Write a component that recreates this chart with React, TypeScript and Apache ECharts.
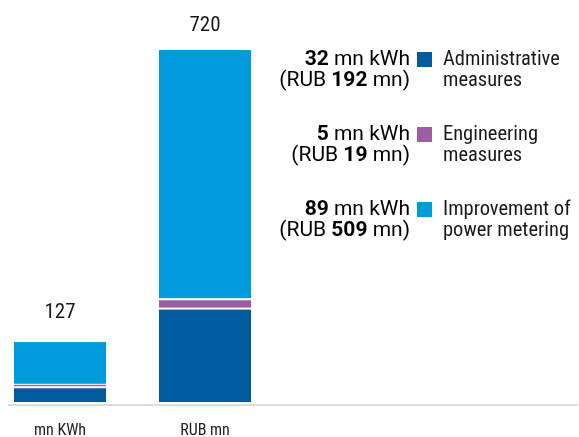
import React, { useEffect, useRef } from "react";
import * as echarts from "echarts";

const categories = ["mn KWh", "RUB mn"];
const seriesNames = ["Administrative", "Engineering", "Improvement of power metering"];
const legendLines = [
  ["Administrative", "measures"],
  ["Engineering", "measures"],
  ["Improvement of", "power metering"],
];
const kwhValues = [32, 5, 89];
const rubValues = [192, 19, 509];
const totals = [127, 720];
const colors = ["#005b9f", "#9e5ba6", "#009bdb"];

export default function App() {
  const ref = useRef<HTMLDivElement>(null);
  useEffect(() => {
    if (!ref.current) return;
    const chart = echarts.init(ref.current, undefined, { renderer: "svg" });
    const font = "Roboto";
    const narrow = "'Roboto Condensed', Roboto";
    const labelDistances = [20, 15];
    const series: any[] = seriesNames.map((name, i) => {
      const isTop = i === seriesNames.length - 1;
      const vals = [kwhValues[i], rubValues[i]];
      return {
        name,
        type: "bar",
        stack: "total",
        barWidth: 94,
        barMinHeight: i === 1 ? 6 : 0,
        data: vals.map((v, j) =>
          isTop ? { value: v, label: { distance: labelDistances[j] } } : v
        ),
        itemStyle: { color: colors[i], borderColor: "#ffffff", borderWidth: 1 },
        label: isTop
          ? {
              show: true,
              position: "top",
              formatter: (p: any) => String(totals[p.dataIndex]),
              fontFamily: narrow,
              fontSize: 21,
              color: "#1a1a1a",
            }
          : { show: false },
      };
    });

    const graphics: any[] = [
      {
        type: "line",
        shape: { x1: 8, y1: 405, x2: 578, y2: 405 },
        style: { stroke: "#dcdcdc", lineWidth: 2 },
      },
    ];
    const rowY = [58, 133, 208];
    const gap = 21;
    const rich = {
      b: { fontFamily: font, fontSize: 21, fontWeight: "bold", color: "#1a1a1a", lineHeight: 20 },
      n: { fontFamily: font, fontSize: 21, color: "#1a1a1a", lineHeight: 20 },
    };
    seriesNames.forEach((_, i) => {
      const y = rowY[i];
      graphics.push({
        type: "text",
        x: 410,
        y: y,
        style: {
          text: `{b|${kwhValues[i]}}{n| mn kWh}`,
          align: "right",
          verticalAlign: "middle",
          rich,
        },
      });
      graphics.push({
        type: "text",
        x: 410,
        y: y + gap,
        style: {
          text: `{n|(RUB }{b|${rubValues[i]}}{n| mn)}`,
          align: "right",
          verticalAlign: "middle",
          rich,
        },
      });
      graphics.push({
        type: "rect",
        shape: { x: 417, y: y - 6, width: 15, height: 15 },
        style: { fill: colors[i] },
      });
      legendLines[i].forEach((line, k) => {
        graphics.push({
          type: "text",
          x: 443,
          y: y + k * gap,
          style: {
            text: line,
            fontFamily: narrow,
            fontSize: 20.5,
            lineHeight: 20,
            fill: "#1a1a1a",
            align: "left",
            verticalAlign: "middle",
          },
        });
      });
    });

    chart.setOption({
      animation: false,
      grid: { left: -12.5, width: 290, top: 49, bottom: 34, outerBoundsMode: "none" },
      xAxis: {
        type: "category",
        data: categories,
        axisLine: { show: false },
        axisTick: { show: false },
        axisLabel: { fontFamily: narrow, fontSize: 16, color: "#222", margin: 18 },
      },
      yAxis: { type: "value", min: 0, max: 720, show: false, splitLine: { show: false } },
      series,
      graphic: graphics,
    });
    return () => chart.dispose();
  }, []);
  return (
    <div
      ref={ref}
      style={{ position: "fixed", left: 0, top: 0, width: 579, height: 437 }}
    />
  );
}
